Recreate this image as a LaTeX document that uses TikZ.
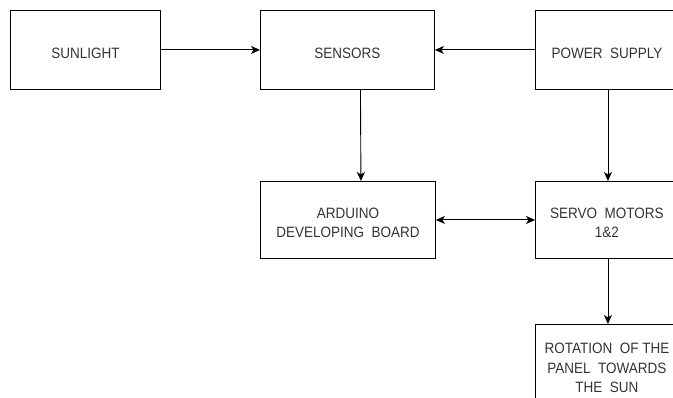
\documentclass[tikz,border=0pt]{standalone}
\usepackage{fontspec}
\setmainfont{Liberation Sans}
\newfontfamily\labfont[FakeStretch=0.9]{Liberation Sans}
\usetikzlibrary{arrows.meta,positioning}
\definecolor{txt}{HTML}{333333}
\begin{document}
\begin{tikzpicture}[x=1pt,y=-1pt,
  blk/.style={draw=black,line width=0.9pt,rectangle,inner sep=0pt,anchor=north west},
  lab/.style={text=txt,font=\labfont\fontsize{15}{19.5}\selectfont,align=center,inner sep=0pt},
  arr/.style={draw=black,line width=0.9pt,-{Stealth[length=9pt,width=8pt,inset=2.5pt]}},
  barr/.style={draw=black,line width=0.9pt,{Stealth[length=9pt,width=8pt,inset=2.5pt]}-{Stealth[length=9pt,width=8pt,inset=2.5pt]}}]
\useasboundingbox (0,0) rectangle (673,398);
\clip (0,0) rectangle (673,398);
\node[blk,minimum width=150pt,minimum height=79pt,label={[lab,yshift=-3pt]center:SUNLIGHT}] (sun) at (10,10) {};
\node[blk,minimum width=174pt,minimum height=79pt,label={[lab,yshift=-3pt]center:SENSORS}] (sens) at (260,10) {};
\node[blk,minimum width=143pt,minimum height=79pt,label={[lab,yshift=-3pt]center:POWER\ \ SUPPLY}] (pow) at (535,10) {};
\node[blk,minimum width=175pt,minimum height=77pt,label={[lab,yshift=-3pt]center:ARDUINO\\DEVELOPING\ \ BOARD}] (ard) at (260,181) {};
\node[blk,minimum width=143pt,minimum height=77pt,label={[lab,yshift=-3pt]center:SERVO\ \ MOTORS\\1\&2}] (servo) at (535,181) {};
\node[blk,minimum width=143pt,minimum height=87pt,label={[lab]center:ROTATION\ \ OF THE\\PANEL\ \ TOWARDS\\THE\ \ SUN}] (rot) at (535,324) {};
\draw[arr] (sun.east) -- (sens.west);
\draw[arr] (pow.west) -- (sens.east);
\draw[arr] ([xshift=13pt]sens.south) -- ([xshift=13pt]ard.north);
\draw[arr] ([xshift=1pt]pow.south) -- ([xshift=1pt]servo.north);
\draw[barr] (ard.east) -- (servo.west);
\draw[arr] ([xshift=1pt]servo.south) -- ([xshift=1pt]rot.north);
\end{tikzpicture}
\end{document}
